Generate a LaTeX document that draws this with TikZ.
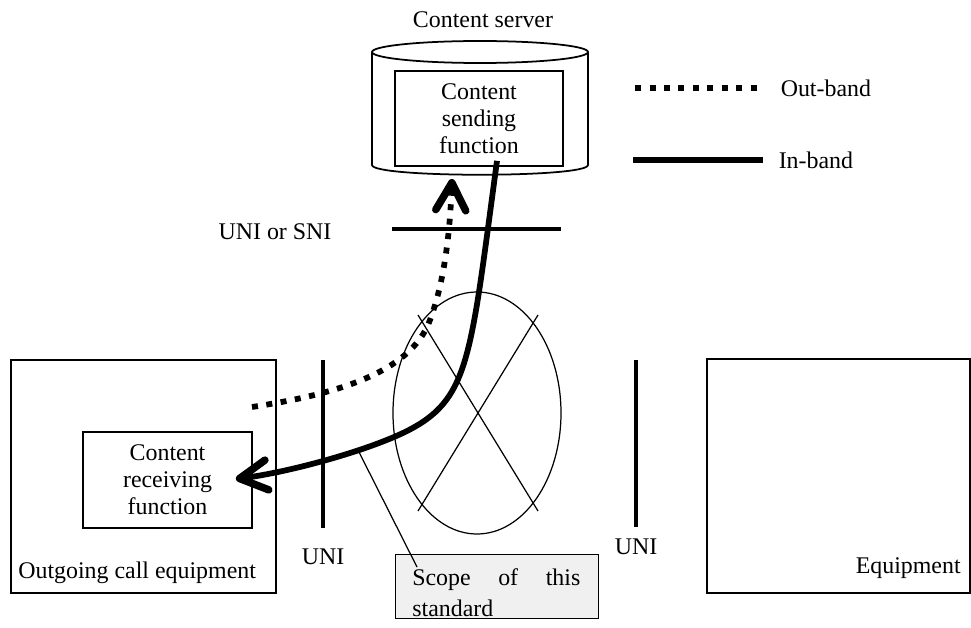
\documentclass[tikz,border=0pt]{standalone}
\usepackage{fontspec}
\setmainfont{Liberation Serif}
\usetikzlibrary{arrows.meta,positioning,calc}

\begin{document}
\begin{tikzpicture}[x=0.02cm,y=-0.02cm,
	font=\fontsize{13.6}{15.3}\selectfont,
	box/.style={draw,line width=1pt,inner sep=0pt},
	bar/.style={line width=2.1pt},
	thin/.style={line width=0.7pt},
	inband/.style={line width=0.115cm},
	outband/.style={line width=0.115cm,dash pattern=on 0.12cm off 0.17cm},
	barb/.style={-{Straight Barb[length=0.55cm,width=0.6cm,line width=0.035cm 1,line cap=round,line join=round]}}]
			\useasboundingbox (0,0) rectangle (971,628);
			% content server
			\node (servername) at (483,20) {Content server};
			\draw[line width=1pt] (372,52) -- (372,165) .. controls (372,178) and (588,178) .. (588,165) -- (588,52);
			\draw[line width=1pt] (480,52) ellipse [x radius=108, y radius=11];
			\coordinate (cylbase) at (452,179);
			\node[box,minimum width=3.36cm,minimum height=1.9cm,align=center] (sender) at (479,118.5) {Content\\sending\\function};
			% legend
			\draw[outband] (635,88) -- (765,88) node[right=4pt] (outlabel) {Out-band};
			\draw[inband] (633,160) -- (763,160) node[right=4pt] (inlabel) {In-band};
			% interfaces
			\draw[bar] (392,229) -- (561,229);
			\node (snilabel) at (275,232) {UNI or SNI};
			\draw[bar] (323,360) -- (323,528);
			\node (unileft) at (323,557) {UNI};
			\draw[bar] (636,360) -- (636,527);
			\node (uniright) at (636,547) {UNI};
			% network
			\draw[thin] (477,413) ellipse [x radius=84, y radius=121];
			\draw[thin] (418,315) -- (538,511);
			\draw[thin] (538,315) -- (418,511);
			% equipment
			\node[box,minimum width=5.3cm,minimum height=4.66cm] (caller) at (143.5,476.5) {};
			\node[anchor=base west,inner sep=0pt] (callername) at (18,578) {Outgoing call equipment};
			\node[box,minimum width=3.38cm,minimum height=1.92cm,align=center] (receiver) at (167.5,480) {Content\\receiving\\function};
			\node[box,minimum width=5.26cm,minimum height=4.68cm] (callee) at (838.5,476) {};
			\node[anchor=base east,inner sep=0pt] (calleename) at (961,573) {Equipment};
			\coordinate (obstart) at (252,407);
			% signalling paths
			\draw[outband,barb] (obstart) .. controls (330,395) and (410,375) .. (430,320) .. controls (445,280) and (450,230) .. (cylbase);
			\draw[inband,barb] ($(sender.south)+(18,-6)$) .. controls (470,360) and (470,400) .. (405,432) .. controls (366,451) and (290,472) .. ($(receiver.east)+(-17,-1)$) coordinate[pos=0.32] (leadstart);
			% scope
			\node[draw,thin,fill=black!6,anchor=north west,minimum width=4.06cm,minimum height=1.28cm] (scope) at (395,554) {};
			\node[anchor=north west,inner sep=0pt,text width=3.36cm,align=justify,font=\fontsize{13.6}{17.6}\selectfont] (scopetext) at (412,568) {Scope of this standard};
			\coordinate (scopehook) at (417,567);
			\draw[thin] (leadstart) -- (scopehook);
			\end{tikzpicture}
\end{document}
